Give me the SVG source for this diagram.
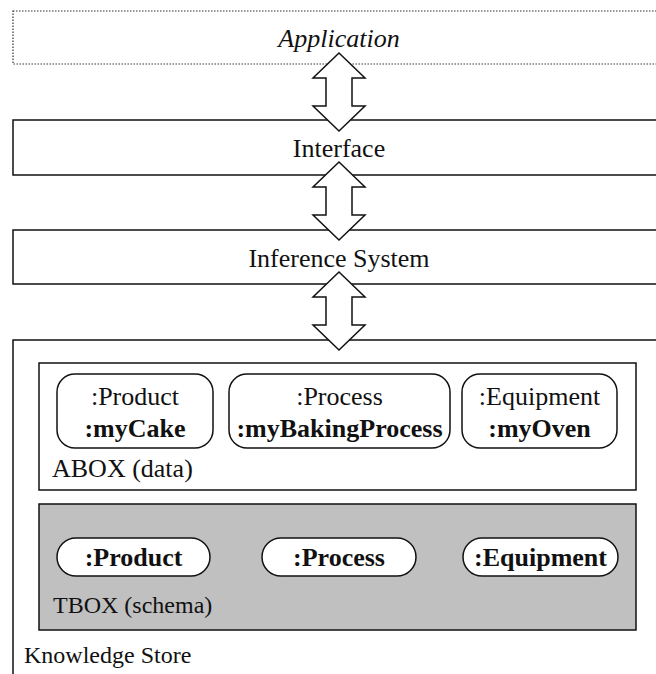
<svg xmlns="http://www.w3.org/2000/svg" width="656" height="674" viewBox="0 0 656 674">
<style>
  .box { fill: #ffffff; stroke: #111111; stroke-width: 1.5; }
  .dotted { fill: #ffffff; stroke: #333333; stroke-width: 1.2; stroke-dasharray: 1.5 1.5; }
  .node { fill: #ffffff; stroke: #111111; stroke-width: 1.5; }
  .tbox { fill: #c0c0c0; stroke: #111111; stroke-width: 1.5; }
  .arrow { fill: #ffffff; stroke: #111111; stroke-width: 1.5; stroke-linejoin: miter; }
  text { font-family: "Liberation Serif", "Times New Roman", serif; font-size: 26px; fill: #111111; }
  .s { font-size: 24px; }
  .c { text-anchor: middle; }
  .b { font-weight: bold; }
  .i { font-style: italic; }
</style>
<g id="application">
  <rect class="dotted" x="13" y="11" width="660" height="53"/>
  <text class="c i" x="339" y="47">Application</text>
</g>
<g id="interface">
  <rect class="box" x="13" y="120" width="660" height="55"/>
  <text class="c" x="339" y="157">Interface</text>
</g>
<g id="inference-system">
  <rect class="box" x="13" y="230" width="660" height="54"/>
  <text class="c" x="339" y="267">Inference System</text>
</g>
<g id="knowledge-store">
  <rect class="box" x="13" y="340" width="660" height="350"/>
  <text class="s" x="24" y="663">Knowledge Store</text>
</g>
<g id="abox">
  <rect class="box" x="39" y="363" width="597" height="127"/>
  <text x="52" y="477">ABOX (data)</text>
</g>
<g id="abox-mycake">
  <rect class="node" x="57" y="374" width="156" height="74" rx="18" ry="18"/>
  <text class="c" x="135" y="405">:Product</text>
  <text class="c b" x="135" y="437">:myCake</text>
</g>
<g id="abox-mybakingprocess">
  <rect class="node" x="229" y="374" width="221" height="74" rx="18" ry="18"/>
  <text class="c" x="339.5" y="405">:Process</text>
  <text class="c b" x="339.5" y="437">:myBakingProcess</text>
</g>
<g id="abox-myoven">
  <rect class="node" x="462" y="374" width="155" height="74" rx="18" ry="18"/>
  <text class="c" x="539.5" y="405">:Equipment</text>
  <text class="c b" x="539.5" y="437">:myOven</text>
</g>
<g id="tbox">
  <rect class="tbox" x="39" y="504" width="597" height="126"/>
  <text class="s" x="53" y="613">TBOX (schema)</text>
</g>
<g id="tbox-product">
  <rect class="node" x="57" y="538" width="153" height="38" rx="19" ry="19"/>
  <text class="c b" x="133.5" y="566">:Product</text>
</g>
<g id="tbox-process">
  <rect class="node" x="262" y="538" width="154" height="38" rx="19" ry="19"/>
  <text class="c b" x="339" y="566">:Process</text>
</g>
<g id="tbox-equipment">
  <rect class="node" x="463" y="538" width="155" height="38" rx="19" ry="19"/>
  <text class="c b" x="540.5" y="566">:Equipment</text>
</g>
<g id="connectors">
  <path class="arrow" d="M339,53 L365,78 L352,78 L352,106 L365,106 L339,131 L313,106 L326,106 L326,78 L313,78 Z"/>
  <path class="arrow" d="M339,162 L365,187 L352,187 L352,215 L365,215 L339,240 L313,215 L326,215 L326,187 L313,187 Z"/>
  <path class="arrow" d="M339,272 L365,297 L352,297 L352,325 L365,325 L339,350 L313,325 L326,325 L326,297 L313,297 Z"/>
</g>
</svg>
